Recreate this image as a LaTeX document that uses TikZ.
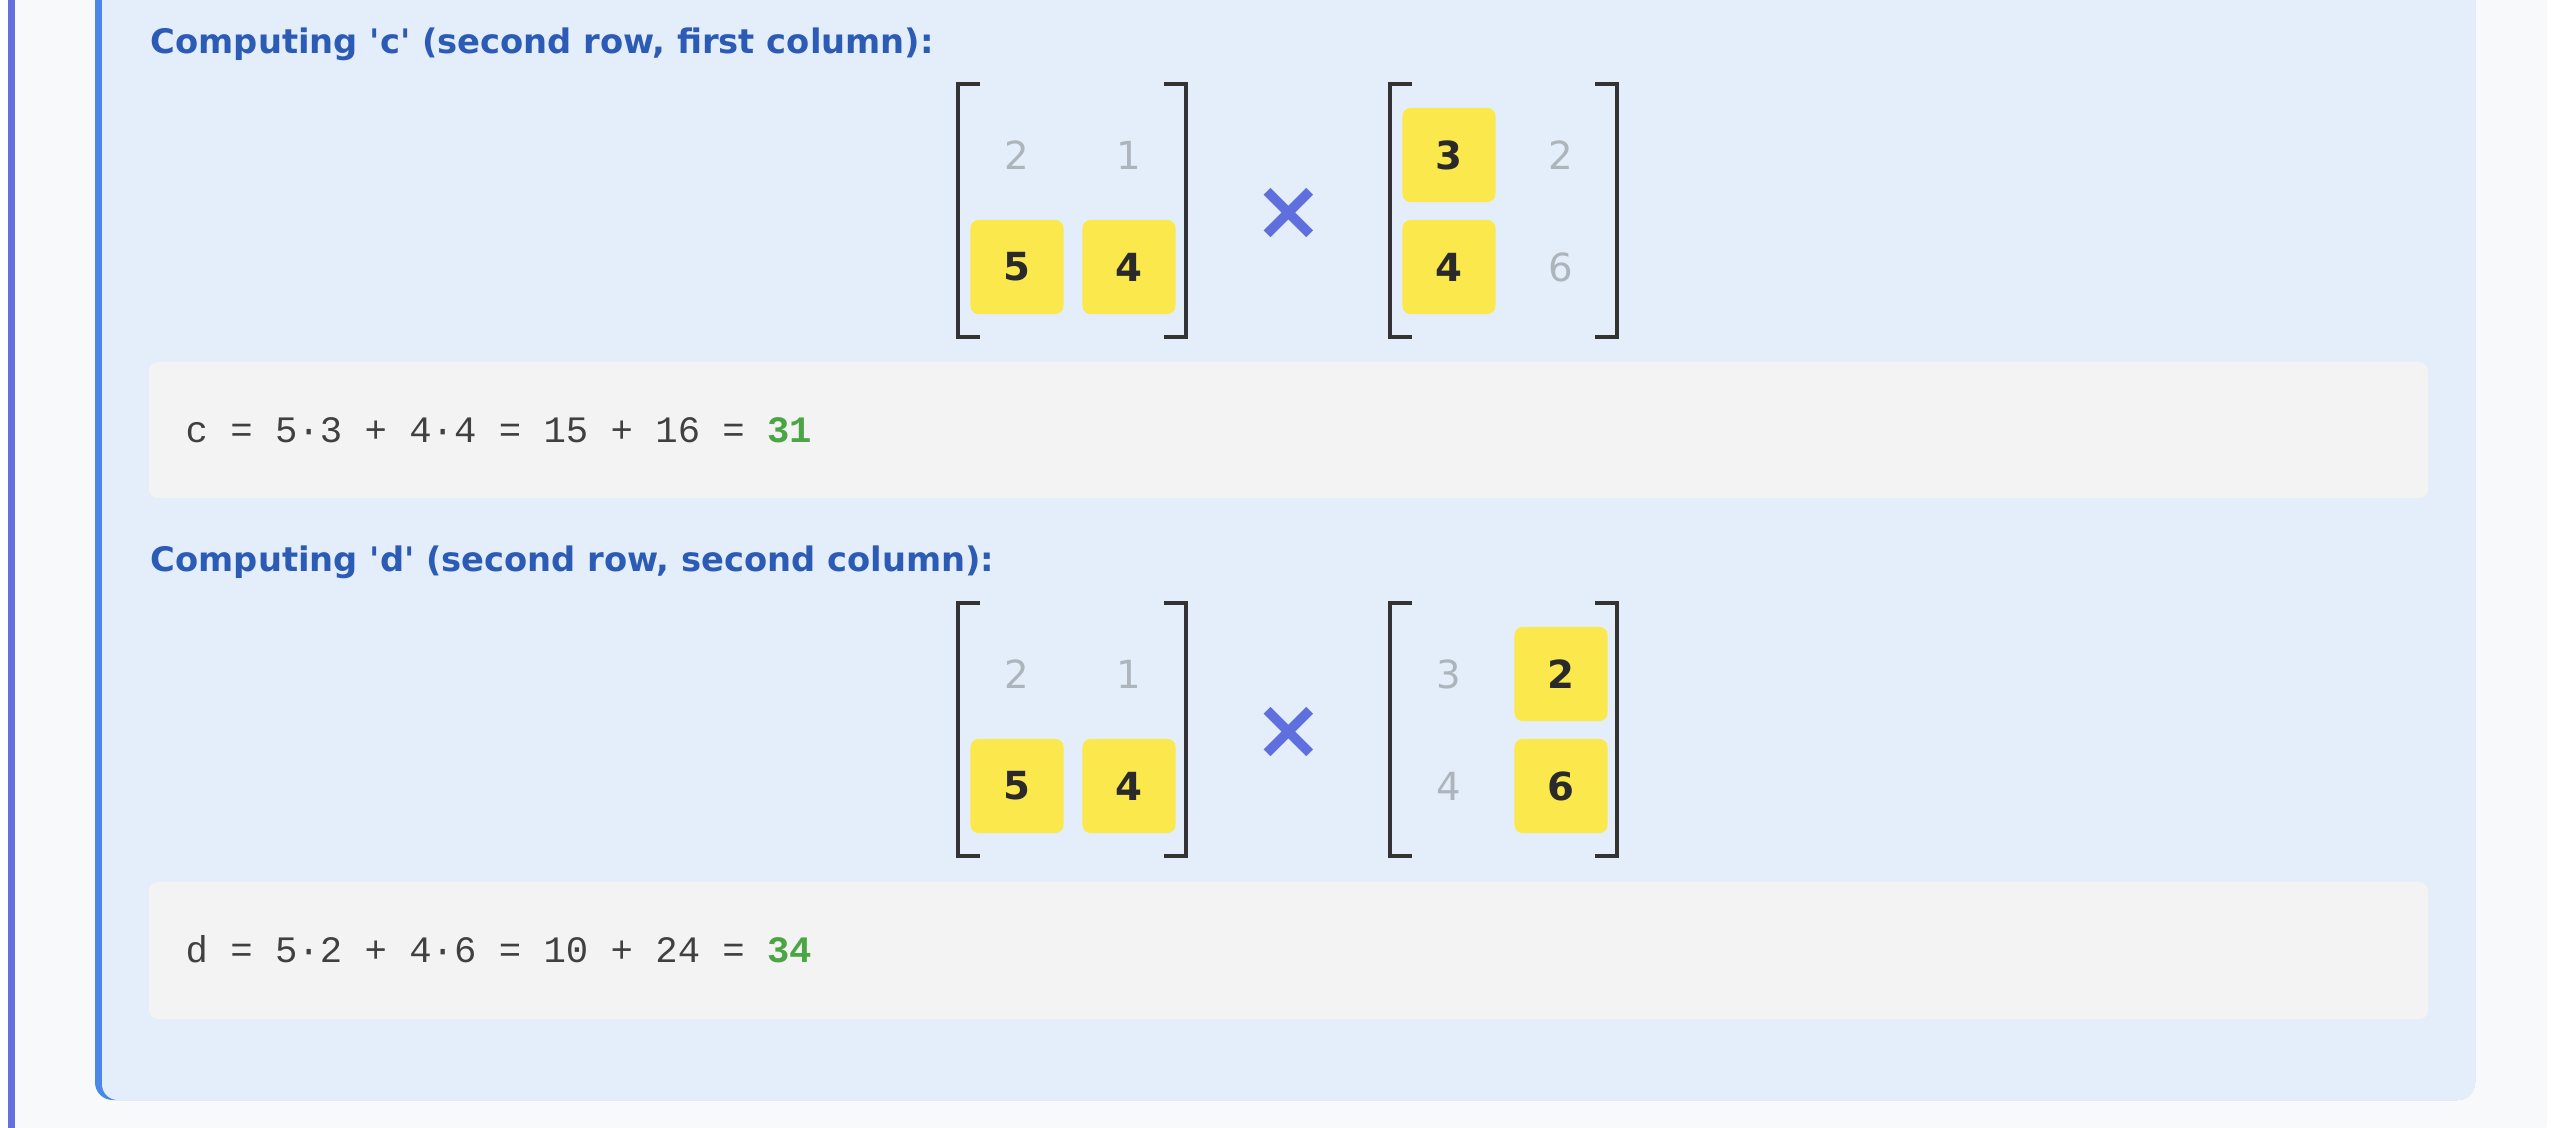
\documentclass[tikz,border=0pt]{standalone}
\usepackage{fontspec}
\setmainfont{DejaVu Sans}
\setmonofont{Liberation Mono}
\usetikzlibrary{positioning}

\definecolor{pagebg}{HTML}{F8F9FA}
\definecolor{edgeline}{HTML}{6271DD}
\definecolor{panelbg}{HTML}{E3EEFA}
\definecolor{panelline}{HTML}{4A88E8}
\definecolor{titleblue}{HTML}{2C5BB6}
\definecolor{cellyellow}{HTML}{FAE84C}
\definecolor{celltext}{HTML}{2A2A2A}
\definecolor{dimtext}{HTML}{AEB4BC}
\definecolor{timesblue}{HTML}{5F70DE}
\definecolor{codebg}{HTML}{F3F3F3}
\definecolor{codetext}{HTML}{404040}
\definecolor{resultgreen}{HTML}{4CA545}
\definecolor{bracketgray}{HTML}{333333}

\tikzset{
  cellhl/.style = {fill=cellyellow, rounded corners=2.3pt, minimum width=0.93cm, minimum height=0.94cm,
    inner sep=0pt, text=celltext, font=\fontsize{11}{13}\selectfont\bfseries},
  celldim/.style = {minimum width=0.93cm, minimum height=0.94cm, inner sep=0pt, text=dimtext,
    font=\fontsize{11}{13}\selectfont},
  brk/.style = {draw=bracketgray, line width=1.4pt},
  heading/.style = {anchor=west, inner sep=0pt, text=titleblue, font=\fontsize{9.6}{11}\selectfont\bfseries},
  codeline/.style = {anchor=west, inner sep=0pt, text=codetext, font=\fontsize{10.6}{12}\selectfont\ttfamily},
  timesmark/.style = {inner sep=0pt, text=timesblue, font=\fontsize{24}{26}\selectfont\bfseries}
}

\begin{document}
\begin{tikzpicture}[x=0.01cm, y=-0.01cm]

  \useasboundingbox (0,0) rectangle (2560,1128);

  %% Page and panel

  % Page
  \fill[white] (0,0) rectangle (2560,1128);
  \fill[pagebg, rounded corners=4pt] (8,-40) rectangle (2547,1136);
  \fill[edgeline] (8,-40) rectangle (15,1136);

  % Panel
  \fill[panelline, rounded corners=5pt] (95,-40) rectangle (2475,1100);
  \fill[panelbg, rounded corners=4.5pt] (102,-40) rectangle (2475,1100);

  %% Computing c

  \node[heading] (titleC) at (150,44) {Computing \textquotesingle c\textquotesingle{} (second row, first column):};

  % Left matrix
  \node[celldim] (cA11) at (1017,155) {2};
  \node[celldim] (cA12) at (1129,155) {1};
  \node[cellhl]  (cA21) at (1017,267) {5};
  \node[cellhl]  (cA22) at (1129,267) {4};
  \draw[brk] (980,84) -- (958,84) -- (958,337) -- (980,337);
  \draw[brk] (1164,84) -- (1186,84) -- (1186,337) -- (1164,337);

  \node[timesmark] (timesC) at (1289,214) {×};

  % Right matrix
  \node[cellhl]  (cB11) at (1449,155) {3};
  \node[celldim] (cB12) at (1561,155) {2};
  \node[cellhl]  (cB21) at (1449,267) {4};
  \node[celldim] (cB22) at (1561,267) {6};
  \draw[brk] (1412,84) -- (1390,84) -- (1390,337) -- (1412,337);
  \draw[brk] (1595,84) -- (1617,84) -- (1617,337) -- (1595,337);

  % Sum
  \fill[codebg, rounded corners=2.5pt] (149,362) rectangle (2428,498);
  \node[codeline] (codeC) at (185,430) {c = 5·3 + 4·4 = 15 + 16 = \textcolor{resultgreen}{\bfseries 31}};

  %% Computing d

  \node[heading] (titleD) at (150,562) {Computing \textquotesingle d\textquotesingle{} (second row, second column):};

  % Left matrix
  \node[celldim] (dA11) at (1017,674) {2};
  \node[celldim] (dA12) at (1129,674) {1};
  \node[cellhl]  (dA21) at (1017,786) {5};
  \node[cellhl]  (dA22) at (1129,786) {4};
  \draw[brk] (980,603) -- (958,603) -- (958,856) -- (980,856);
  \draw[brk] (1164,603) -- (1186,603) -- (1186,856) -- (1164,856);

  \node[timesmark] (timesD) at (1289,733) {×};

  % Right matrix
  \node[celldim] (dB11) at (1449,674) {3};
  \node[cellhl]  (dB12) at (1561,674) {2};
  \node[celldim] (dB21) at (1449,786) {4};
  \node[cellhl]  (dB22) at (1561,786) {6};
  \draw[brk] (1412,603) -- (1390,603) -- (1390,856) -- (1412,856);
  \draw[brk] (1595,603) -- (1617,603) -- (1617,856) -- (1595,856);

  % Sum
  \fill[codebg, rounded corners=2.5pt] (149,882) rectangle (2428,1019);
  \node[codeline] (codeD) at (185,949) {d = 5·2 + 4·6 = 10 + 24 = \textcolor{resultgreen}{\bfseries 34}};

\end{tikzpicture}
\end{document}
